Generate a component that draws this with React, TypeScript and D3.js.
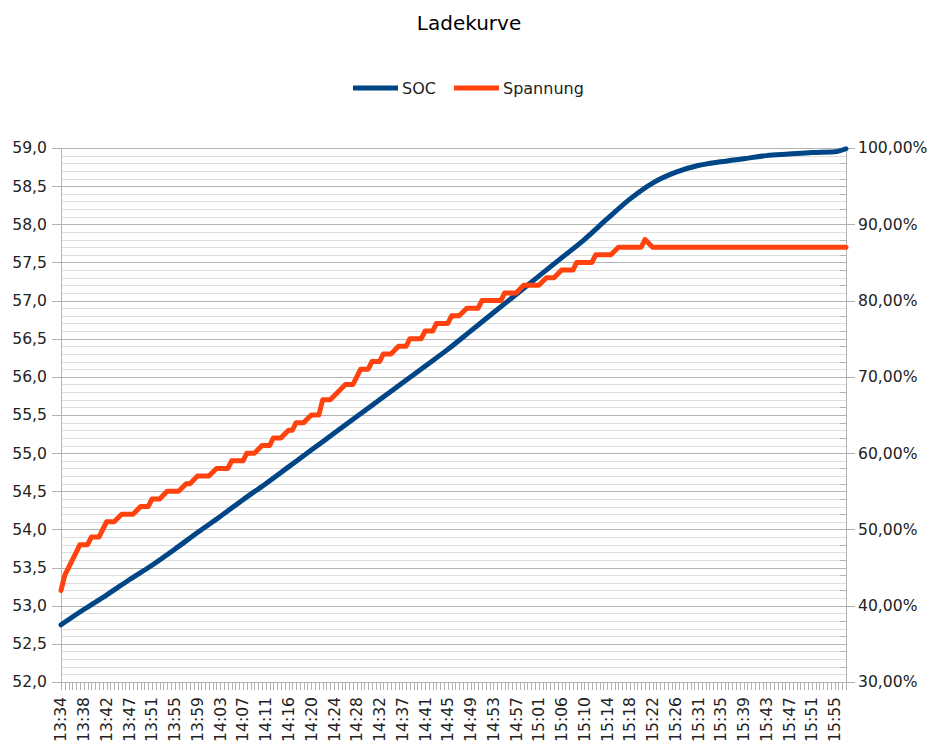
import React, { useEffect, useRef } from 'react';
import * as d3 from 'd3';

// data
const title = 'Ladekurve';
const seriesNames = ['SOC', 'Spannung'];
const seriesColors = ['#004586', '#ff420e'];
// one label every 6 samples
const timeLabels = [
  '13:34', '13:38', '13:42', '13:47', '13:51', '13:55', '13:59', '14:03', '14:07', '14:11',
  '14:16', '14:20', '14:24', '14:28', '14:32', '14:37', '14:41', '14:45', '14:49', '14:53',
  '14:57', '15:01', '15:06', '15:10', '15:14', '15:18', '15:22', '15:26', '15:31', '15:35',
  '15:39', '15:43', '15:47', '15:51', '15:55',
];
const labelEvery = 6;
const sampleCount = 208;
// SOC in %, [sample, value]
const socPoints: [number, number][] = [
  [0, 37.5], [6, 39.5], [12, 41.4], [18, 43.4], [24, 45.3], [30, 47.4], [36, 49.6], [42, 51.7],
  [48, 53.9], [54, 56.0], [60, 58.2], [66, 60.4], [72, 62.6], [78, 64.8], [84, 67.0], [90, 69.2],
  [96, 71.4], [102, 73.6], [108, 76.0], [114, 78.4], [120, 80.8], [126, 83.2], [132, 85.6],
  [138, 88.0], [144, 90.7], [150, 93.3], [156, 95.4], [162, 96.8], [168, 97.7], [174, 98.2],
  [180, 98.6], [186, 99.0], [192, 99.2], [198, 99.4], [204, 99.5], [207, 99.9],
];
// Spannung in V, [sample, value]
const spannungPoints: [number, number][] = [
  [0, 53.2], [1, 53.4], [2, 53.5], [3, 53.6], [4, 53.7], [5, 53.8], [7, 53.8], [8, 53.9],
  [10, 53.9], [12, 54.1], [14, 54.1], [16, 54.2], [19, 54.2], [21, 54.3], [23, 54.3], [24, 54.4],
  [26, 54.4], [28, 54.5], [31, 54.5], [33, 54.6], [34, 54.6], [36, 54.7], [39, 54.7], [41, 54.8],
  [44, 54.8], [45, 54.9], [48, 54.9], [49, 55.0], [51, 55.0], [53, 55.1], [55, 55.1], [56, 55.2],
  [58, 55.2], [60, 55.3], [61, 55.3], [62, 55.4], [64, 55.4], [66, 55.5], [68, 55.5], [69, 55.7],
  [71, 55.7], [75, 55.9], [77, 55.9], [79, 56.1], [81, 56.1], [82, 56.2], [84, 56.2], [85, 56.3],
  [87, 56.3], [89, 56.4], [91, 56.4], [92, 56.5], [95, 56.5], [96, 56.6], [98, 56.6], [99, 56.7],
  [102, 56.7], [103, 56.8], [105, 56.8], [107, 56.9], [110, 56.9], [111, 57.0], [116, 57.0],
  [117, 57.1], [120, 57.1], [122, 57.2], [126, 57.2], [128, 57.3], [130, 57.3], [132, 57.4],
  [135, 57.4], [136, 57.5], [140, 57.5], [141, 57.6], [145, 57.6], [147, 57.7], [153, 57.7],
  [154, 57.8], [156, 57.7], [207, 57.7],
];
const leftTicks = d3.range(52, 59.01, 0.5);
const rightTicks = d3.range(30, 100.01, 10);

export default function App() {
  const ref = useRef<SVGSVGElement>(null);

  useEffect(() => {
    draw();
    // eslint-disable-next-line react-hooks/exhaustive-deps
  }, []);

  function draw() {
    const width = 933;
    const height = 742;
    const margin = { top: 148, right: 87, bottom: 60, left: 61 };
    const innerWidth = width - margin.left - margin.right;
    const innerHeight = height - margin.top - margin.bottom;
    const font = '"DejaVu Sans", sans-serif';
    const gridMajor = '#b3b3b3';
    const gridMinor = '#dddddd';

    const svg = d3.select(ref.current);
    svg.selectAll('*').remove();
    svg.append('rect').attr('width', width).attr('height', height).attr('fill', '#fff');

    svg.append('text')
      .attr('x', 469).attr('y', 30)
      .attr('text-anchor', 'middle')
      .attr('font-family', font).attr('font-size', 20)
      .text(title);

    // legend
    const legend = svg.append('g').attr('transform', 'translate(353, 88)');
    const legendX = [0, 101];
    seriesNames.forEach((name, i) => {
      legend.append('line')
        .attr('x1', legendX[i]).attr('x2', legendX[i] + 45)
        .attr('stroke', seriesColors[i]).attr('stroke-width', 5);
      legend.append('text')
        .attr('x', legendX[i] + 49).attr('dy', '0.35em')
        .attr('font-family', font).attr('font-size', 16).attr('fill', '#222')
        .text(name);
    });

    const g = svg.append('g').attr('transform', `translate(${margin.left},${margin.top})`);

    const xScale = d3.scaleLinear().domain([0, sampleCount - 1]).range([0, innerWidth]);
    const yLeft = d3.scaleLinear().domain([52, 59]).range([innerHeight, 0]);
    const yRight = d3.scaleLinear().domain([30, 100]).range([innerHeight, 0]);

    // minor grid
    g.append('g').selectAll('line')
      .data(d3.range(52, 59.001, 0.1).filter((v) => Math.abs(v * 2 - Math.round(v * 2)) > 0.01))
      .join('line')
      .attr('x1', 0).attr('x2', innerWidth)
      .attr('y1', (d) => Math.round(yLeft(d)) + 0.5).attr('y2', (d) => Math.round(yLeft(d)) + 0.5)
      .attr('stroke', gridMinor);
    // major grid + left ticks
    g.append('g').selectAll('line')
      .data(leftTicks)
      .join('line')
      .attr('x1', -9).attr('x2', innerWidth)
      .attr('y1', (d) => Math.round(yLeft(d)) + 0.5).attr('y2', (d) => Math.round(yLeft(d)) + 0.5)
      .attr('stroke', gridMajor);

    // axis lines
    g.append('line').attr('x1', 0.5).attr('x2', 0.5).attr('y1', 0).attr('y2', innerHeight + 8).attr('stroke', gridMajor);
    g.append('line').attr('x1', innerWidth + 0.5).attr('x2', innerWidth + 0.5).attr('y1', 0).attr('y2', innerHeight + 8).attr('stroke', gridMajor);

    // right ticks
    g.append('g').selectAll('line')
      .data(rightTicks)
      .join('line')
      .attr('x1', innerWidth).attr('x2', innerWidth + 9)
      .attr('y1', (d) => Math.round(yRight(d)) + 0.5).attr('y2', (d) => Math.round(yRight(d)) + 0.5)
      .attr('stroke', gridMajor);
    g.append('g').selectAll('line')
      .data(d3.range(32, 100, 2).filter((v) => v % 10 !== 0))
      .join('line')
      .attr('x1', innerWidth - 6).attr('x2', innerWidth)
      .attr('y1', (d) => Math.round(yRight(d)) + 0.5).attr('y2', (d) => Math.round(yRight(d)) + 0.5)
      .attr('stroke', gridMajor);

    // x ticks
    g.append('g').selectAll('line')
      .data(d3.range(0, sampleCount))
      .join('line')
      .attr('x1', (d) => Math.round(xScale(d)) + 0.5).attr('x2', (d) => Math.round(xScale(d)) + 0.5)
      .attr('y1', innerHeight).attr('y2', innerHeight + 8)
      .attr('stroke', gridMajor);

    // axis labels
    g.append('g').selectAll('text')
      .data(leftTicks)
      .join('text')
      .attr('x', -14).attr('y', (d) => yLeft(d)).attr('dy', '0.35em')
      .attr('text-anchor', 'end')
      .attr('font-family', font).attr('font-size', 15.6).attr('fill', '#222')
      .text((d) => d3.format('.1f')(d).replace('.', ','));
    g.append('g').selectAll('text')
      .data(rightTicks)
      .join('text')
      .attr('x', innerWidth + 12).attr('y', (d) => yRight(d)).attr('dy', '0.35em')
      .attr('font-family', font).attr('font-size', 15.6).attr('fill', '#222')
      .text((d) => d3.format('.2f')(d).replace('.', ',') + '%');
    g.append('g').selectAll('text')
      .data(timeLabels)
      .join('text')
      .attr('transform', (d, i) => `translate(${xScale(i * labelEvery)},${innerHeight + 15}) rotate(-90)`)
      .attr('dy', '0.35em')
      .attr('text-anchor', 'end')
      .attr('font-family', font).attr('font-size', 15.6).attr('fill', '#222')
      .text((d) => d);

    // lines
    const socLine = d3.line<[number, number]>()
      .x((d) => xScale(d[0]))
      .y((d) => yRight(d[1]))
      .curve(d3.curveMonotoneX);
    const spLine = d3.line<[number, number]>()
      .x((d) => xScale(d[0]))
      .y((d) => yLeft(d[1]));
    g.append('path')
      .attr('d', socLine(socPoints))
      .attr('fill', 'none').attr('stroke', seriesColors[0])
      .attr('stroke-width', 5).attr('stroke-linejoin', 'round').attr('stroke-linecap', 'round');
    g.append('path')
      .attr('d', spLine(spannungPoints))
      .attr('fill', 'none').attr('stroke', seriesColors[1])
      .attr('stroke-width', 5).attr('stroke-linejoin', 'round').attr('stroke-linecap', 'round');
  }

  return (
    <svg
      ref={ref}
      width={933}
      height={742}
      style={{ position: 'absolute', left: 0, top: 0, display: 'block' }}
    />
  );
}
